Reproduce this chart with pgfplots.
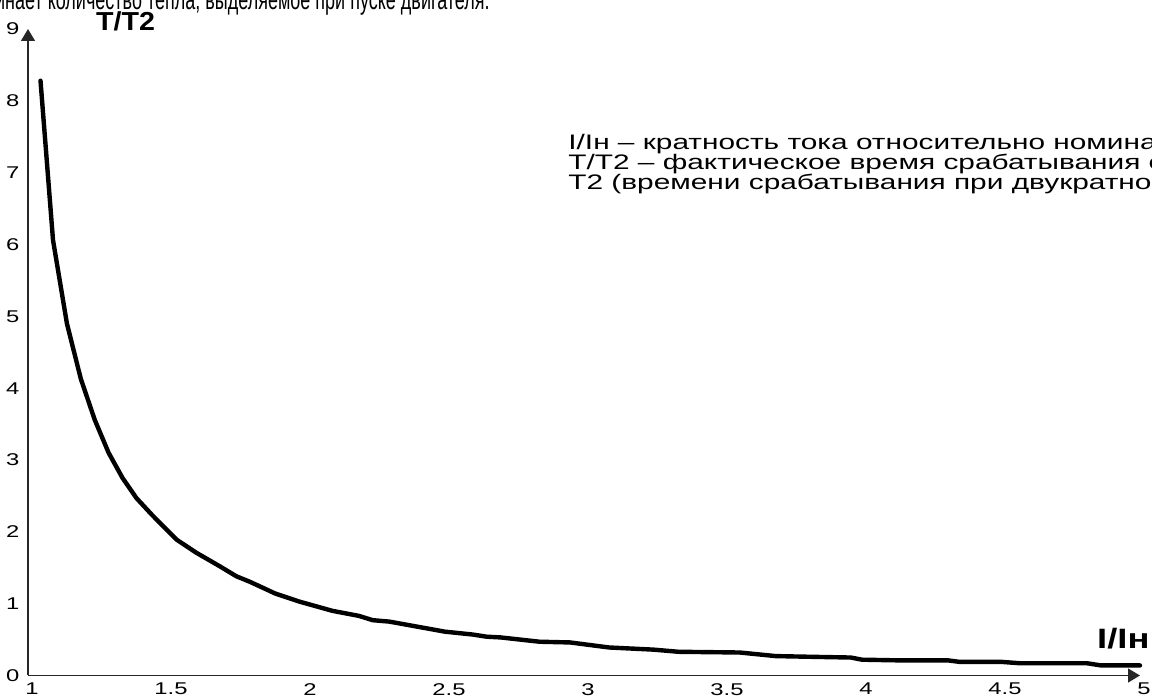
\documentclass[border=0pt]{standalone}
\usepackage{fontspec}
\setmainfont{Liberation Sans}
\usepackage{pgfplots}
\usepackage{pgfplotstable}
\pgfplotsset{compat=1.18}
\usetikzlibrary{arrows.meta}
\pgfplotstableread{
x y
1.045 8.28
1.09 6.06
1.14 4.90
1.19 4.13
1.24 3.56
1.29 3.10
1.34 2.75
1.39 2.47
1.445 2.24
1.535 1.89
1.605 1.71
1.69 1.52
1.75 1.38
1.795 1.31
1.89 1.14
1.975 1.03
2.095 0.90
2.19 0.83
2.24 0.77
2.30 0.75
2.40 0.68
2.50 0.61
2.60 0.57
2.65 0.54
2.70 0.53
2.84 0.47
2.95 0.46
3.09 0.39
3.25 0.36
3.34 0.33
3.56 0.32
3.69 0.27
3.82 0.26
3.96 0.25
4.00 0.22
4.14 0.21
4.31 0.21
4.35 0.19
4.50 0.19
4.57 0.17
4.81 0.17
4.86 0.14
5.00 0.14
}\curve
\begin{document}
\begin{tikzpicture}
\begin{axis}[
  at={(14pt,12.25pt)}, anchor=south west,
  scale only axis, width=556pt, height=323.25pt,
  xmin=1, xmax=5, ymin=0, ymax=9,
  axis lines=left,
  axis line style={line width=0.65pt, draw=black!85, -{Triangle[length=6pt,width=7pt]}},
  tick style={draw=none},
  xtick={1,1.5,2,2.5,3,3.5,4,4.5,5},
  ytick={0,1,2,3,4,5,6,7,8,9},
  xticklabel={\scalebox{1.4}[1]{\pgfmathprintnumber[assume math mode=true]{\tick}}},
  yticklabel={\scalebox{1.4}[1]{\pgfmathprintnumber[assume math mode=true]{\tick}}},
  xticklabel style={font=\fontsize{8.5}{9}\selectfont, anchor=north, inner sep=0pt, yshift=-1.5pt, xshift=2pt},
  yticklabel style={font=\fontsize{8.5}{9}\selectfont, anchor=east, inner sep=0pt, xshift=-2pt},
  xlabel={\scalebox{1.3}[1]{\bfseries I/Iн}},
  ylabel={\scalebox{1.1}[1]{\bfseries T/T2}},
  xlabel style={at={(rel axis cs:0.985,0.0425)}, anchor=base, inner sep=0pt, font=\fontsize{14}{16}\selectfont},
  ylabel style={rotate=-90, at={(rel axis cs:0.0877,0.997)}, anchor=base, inner sep=0pt, font=\fontsize{13}{15}\selectfont},
  clip=false,
]
\addplot[black, line width=2.2pt, line join=round, line cap=round] table[x=x,y=y] {\curve};
\end{axis}
\begin{scope}[every node/.style={inner sep=0pt, font=\fontsize{10.5}{11}\selectfont}]
\node[anchor=base west] at (284pt,275pt) {\scalebox{1.42}[1]{I/Iн – кратность тока относительно номинального;}};
\node[anchor=base west] at (284pt,265pt) {\scalebox{1.42}[1]{T/T2 – фактическое время срабатывания относительно}};
\node[anchor=base west] at (284pt,255pt) {\scalebox{1.42}[1]{T2 (времени срабатывания при двукратном токе).}};
\node[anchor=base east, font=\fontsize{14}{15}\selectfont] at (245pt,345pt) {\scalebox{0.643}[1]{запоминает количество тепла, выделяемое при пуске двигателя.}};
\end{scope}
\pgfresetboundingbox
\useasboundingbox (0,0) rectangle (576pt,350pt);
\end{tikzpicture}
\end{document}
